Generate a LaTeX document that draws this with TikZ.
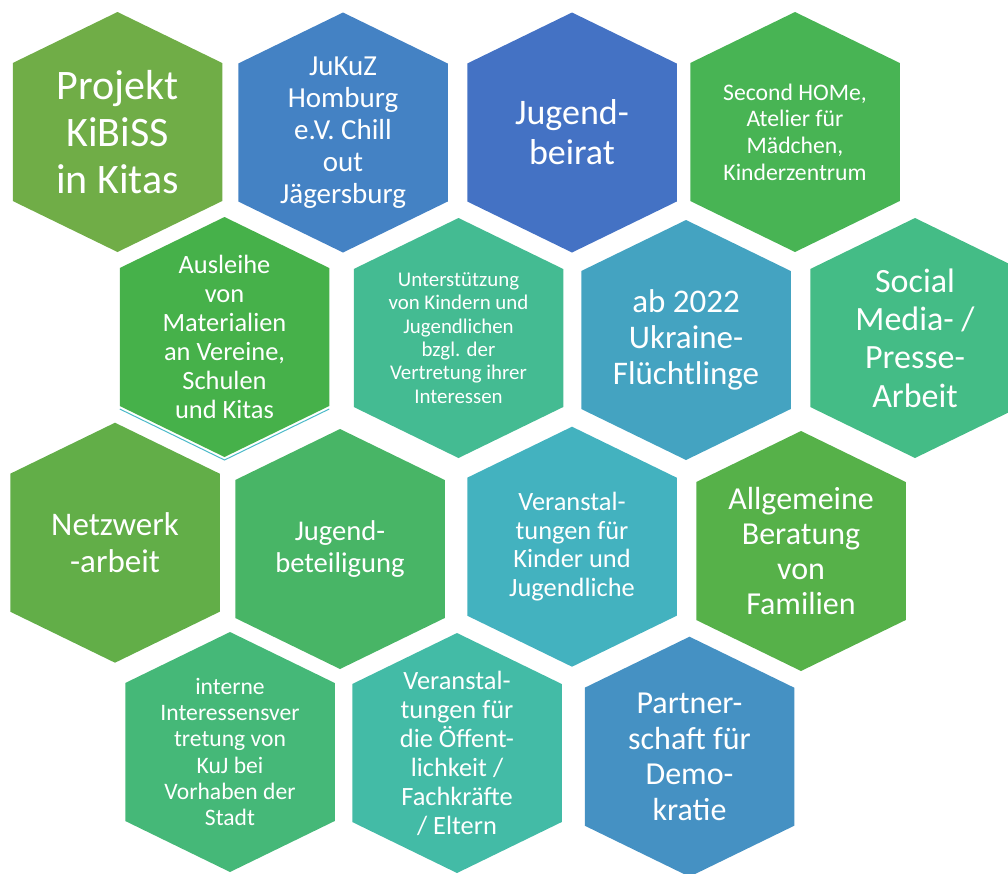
\documentclass[tikz,border=0pt]{standalone}
\usepackage{fontspec}
\setmainfont{Carlito}
\definecolor{cA}{RGB}{112,173,71}
\definecolor{cB}{RGB}{68,130,196}
\definecolor{cC}{RGB}{68,114,196}
\definecolor{cD}{RGB}{72,180,84}
\definecolor{cE}{RGB}{70,177,74}
\definecolor{cF}{RGB}{68,187,146}
\definecolor{cG}{RGB}{68,163,193}
\definecolor{cH}{RGB}{68,188,134}
\definecolor{cI}{RGB}{98,174,72}
\definecolor{cJ}{RGB}{72,181,102}
\definecolor{cK}{RGB}{67,178,191}
\definecolor{cL}{RGB}{86,177,73}
\definecolor{cM}{RGB}{69,184,120}
\definecolor{cN}{RGB}{67,187,166}
\definecolor{cO}{RGB}{69,145,195}
\definecolor{edgeline}{RGB}{75,185,200}
\newcommand\hexcell[3]{%
  \coordinate (#1) at (#2);
  \fill[#3] (#1) ++(0,-120) -- ++(104.75,51) -- ++(0,138) -- ++(-104.75,51) -- ++(-104.75,-51) -- ++(0,-138) -- cycle;
}
\newcommand\fs[2]{\fontsize{#1}{#2}\selectfont}
\tikzset{lbl/.style={text=white, align=center, inner sep=0pt}}
\begin{document}
\begin{tikzpicture}[x=1pt,y=-1pt]
\useasboundingbox (0,0) rectangle (1008,873);
\clip (0,0) rectangle (1008,873);
% row 1
\hexcell{h1}{117.5,132}{cA}
\hexcell{h2}{343,132.5}{cB}
\hexcell{h3}{572,132.5}{cC}
\hexcell{h4}{795,132}{cD}
% row 2
\hexcell{h5}{224.5,337}{cE}
\draw[edgeline, line width=1pt] ([shift={(-104.75,72)}]h5) -- ([shift={(0,123)}]h5) -- ([shift={(104.75,72)}]h5);
\hexcell{h6}{458.5,338}{cF}
\hexcell{h7}{686,340}{cG}
\hexcell{h8}{915,338}{cH}
% row 3
\hexcell{h9}{115,542.7}{cI}
\hexcell{h10}{340,549}{cJ}
\hexcell{h11}{572,546.7}{cK}
\hexcell{h12}{801,551}{cL}
% row 4
\hexcell{h13}{230,752}{cM}
\hexcell{h14}{457,753}{cN}
\hexcell{h15}{689.5,756.7}{cO}
% labels
\node[lbl, font=\fs{42}{46.7}] (t1) at (h1) {Projekt\\KiBiSS\\in Kitas};
\node[lbl, font=\fs{29}{32}] (t2) at (h2) {JuKuZ\\Homburg\\e.V. Chill\\out\\Jägersburg};
\node[lbl, font=\fs{36}{40}] (t3) at (h3) {Jugend-\\beirat};
\node[lbl, font=\fs{23.7}{26.7}] (t4) at (h4) {Second HOMe,\\Atelier für\\Mädchen,\\Kinderzentrum};
\node[lbl, font=\fs{26.4}{29}] (t5) at (h5) {Ausleihe\\von\\Materialien\\an Vereine,\\Schulen\\und Kitas};
\node[lbl, font=\fs{20.9}{23.3}] (t6) at (h6) {Unterstützung\\von Kindern und\\Jugendlichen\\bzgl. der\\Vertretung ihrer\\Interessen};
\node[lbl, font=\fs{33}{36}] (t7) at (h7) {ab 2022\\Ukraine-\\Flüchtlinge};
\node[lbl, font=\fs{34}{38.3}] (t8) at (h8) {Social\\Media- /\\Presse-\\Arbeit};
\node[lbl, font=\fs{33}{36.7}] (t9) at (h9) {Netzwerk\\-arbeit};
\node[lbl, font=\fs{28.6}{31.7}] (t10) at (h10) {Jugend-\\beteiligung};
\node[lbl, font=\fs{26.4}{28.7}] (t11) at (h11) {Veranstal-\\tungen für\\Kinder und\\Jugendliche};
\node[lbl, font=\fs{32}{35}] (t12) at (h12) {Allgemeine\\Beratung\\von\\Familien};
\node[lbl, font=\fs{23.6}{26.3}] (t13) at (h13) {interne\\Interessensver\\tretung von\\KuJ bei\\Vorhaben der\\Stadt};
\node[lbl, font=\fs{26.4}{29}] (t14) at (h14) {Veranstal-\\tungen für\\die Öffent-\\lichkeit /\\Fachkräfte\\/ Eltern};
\node[lbl, font=\fs{32}{35.5}] (t15) at (h15) {Partner-\\schaft für\\Demo-\\kratie};
\end{tikzpicture}
\end{document}
